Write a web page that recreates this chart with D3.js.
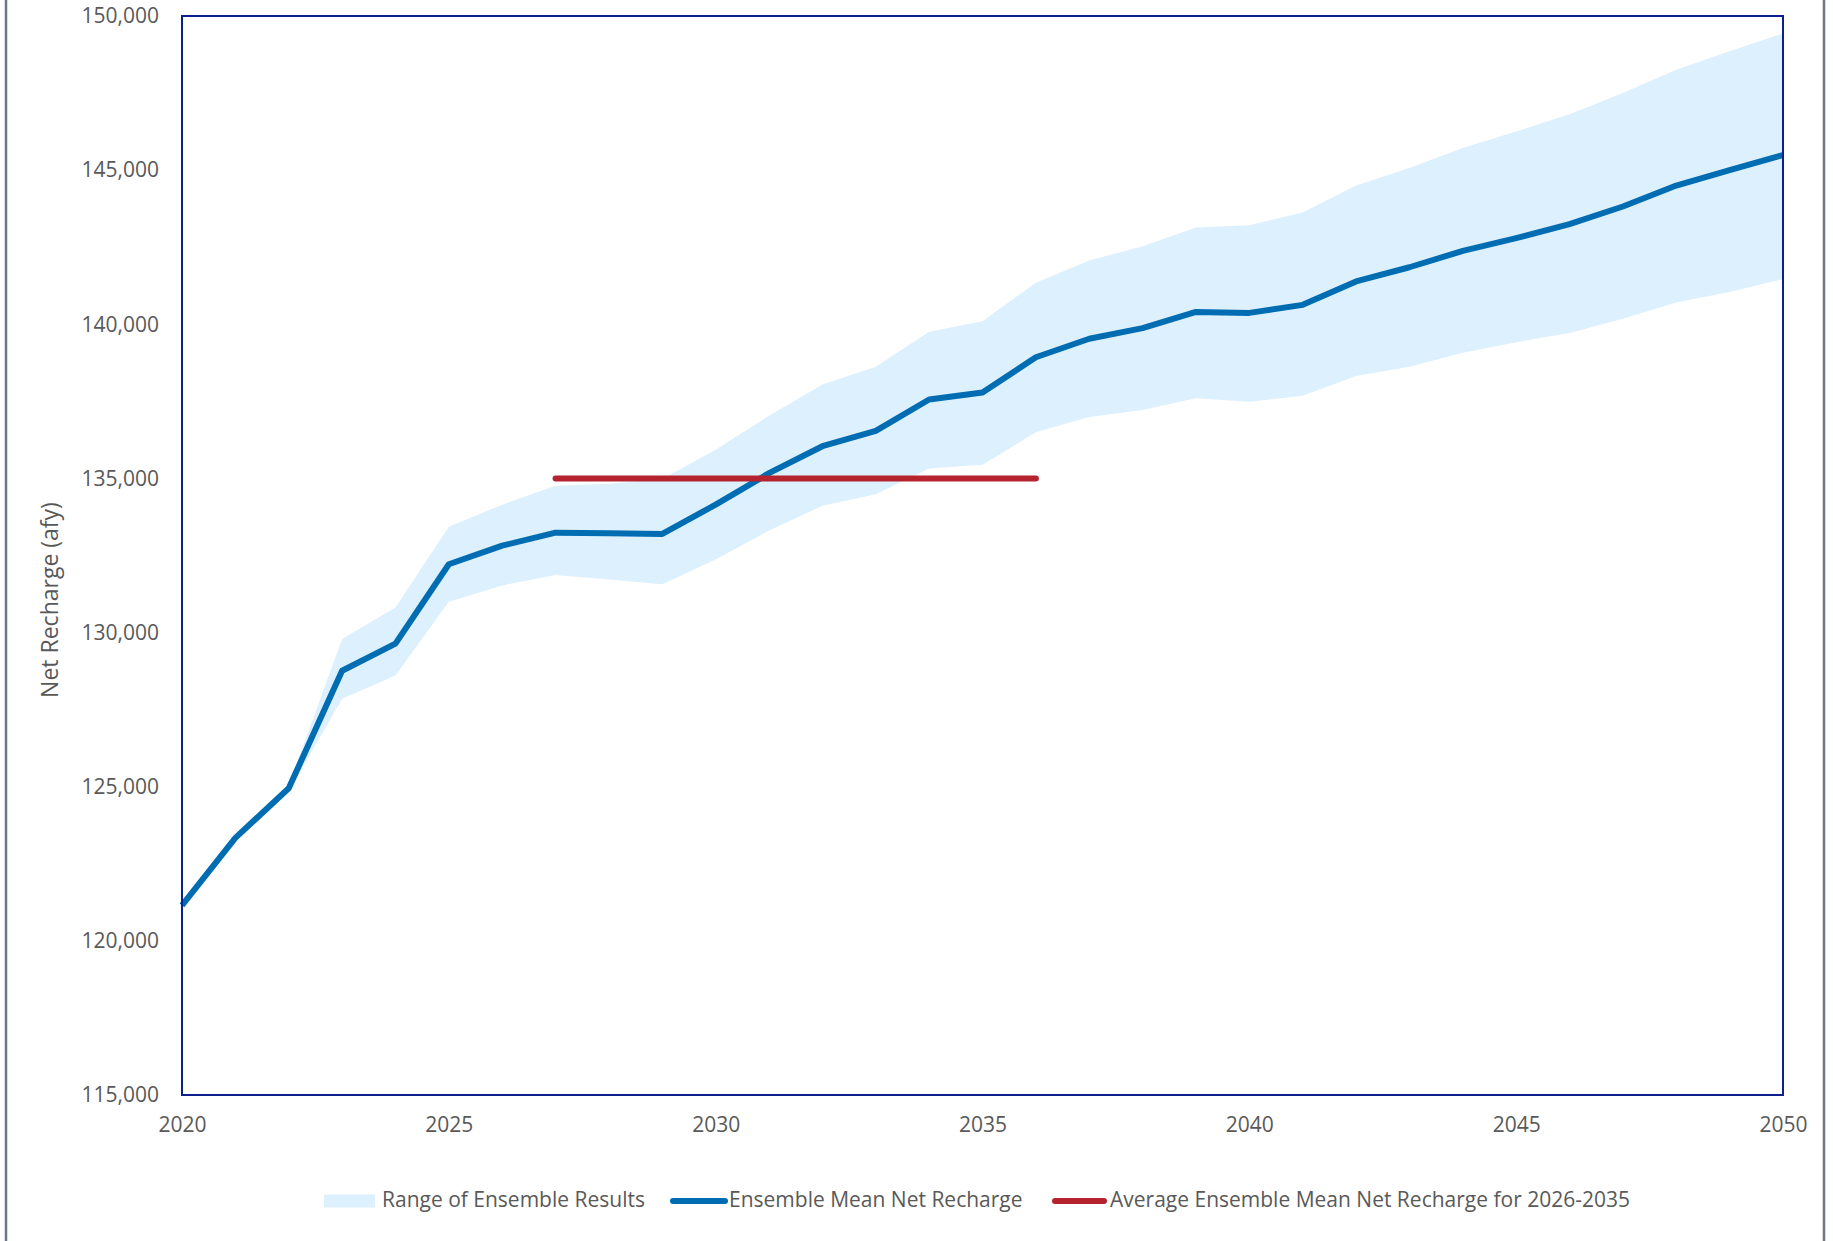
<!DOCTYPE html>
<html>
<head>
<meta charset="utf-8">
<script src="https://cdn.jsdelivr.net/npm/d3@7"></script>
<style>
  body { margin: 0; background: #fff; }
  text { font-family: "Open Sans", sans-serif; fill: #595959; }
</style>
</head>
<body>
<svg id="chart"></svg>
<script>
const years = d3.range(2020, 2051);
const meanValues = [121150, 123340, 124950, 128760, 129640, 132215, 132820, 133240, 133220, 133200,
    134150, 135170, 136045, 136540, 137560, 137790, 138930, 139530, 139875, 140400,
    140370, 140630, 141390, 141850, 142380, 142795, 143250, 143820, 144500, 145000, 145490];
const upperValues = [121200, 123400, 125050, 129790, 130810, 133430, 134150, 134760, 134830, 134980,
    135930, 137030, 138050, 138620, 139760, 140100, 141350, 142070, 142530, 143140,
    143210, 143630, 144500, 145070, 145720, 146250, 146810, 147500, 148260, 148860, 149430];
const lowerValues = [121100, 123280, 124850, 127850, 128610, 131000, 131530, 131870, 131720, 131570,
    132370, 133310, 134110, 134490, 135320, 135440, 136500, 136990, 137220, 137600,
    137490, 137680, 138320, 138620, 139080, 139420, 139720, 140180, 140710, 141050, 141470];
const averageYears = [2027, 2036];
const averageValue = 135000;
const yTicks = [115000, 120000, 125000, 130000, 135000, 140000, 145000, 150000];
const xTicks = [2020, 2025, 2030, 2035, 2040, 2045, 2050];
const legendLabels = ['Range of Ensemble Results', 'Ensemble Mean Net Recharge', 'Average Ensemble Mean Net Recharge for 2026-2035'];

const w = 1833;
const h = 1241;
const margin = { top: 16, right: 50, bottom: 146, left: 182 };

const svg = d3.select('#chart')
    .attr('width', w)
    .attr('height', h);

const x = d3.scaleLinear()
    .domain([2020, 2050])
    .range([margin.left, w - margin.right]);

const y = d3.scaleLinear()
    .domain([115000, 150000])
    .range([h - margin.bottom, margin.top]);

// outer frame edges
svg.append('line').attr('x1', 6).attr('x2', 6).attr('y1', 0).attr('y2', h)
    .attr('stroke', '#6b7785').attr('stroke-width', 2.5);
svg.append('line').attr('x1', 1824).attr('x2', 1824).attr('y1', 0).attr('y2', h)
    .attr('stroke', '#6b7785').attr('stroke-width', 2.5);

const band = years.map((yr, i) => ({ yr, lo: lowerValues[i], hi: upperValues[i] }));

svg.append('path')
    .datum(band)
    .attr('fill', '#ddf0fd')
    .attr('d', d3.area().x(d => x(d.yr)).y0(d => y(d.lo)).y1(d => y(d.hi)));

svg.append('path')
    .datum(years.map((yr, i) => [yr, meanValues[i]]))
    .attr('fill', 'none')
    .attr('stroke', '#006db3')
    .attr('stroke-width', 6)
    .attr('stroke-linejoin', 'round')
    .attr('d', d3.line().x(d => x(d[0])).y(d => y(d[1])));

svg.append('line')
    .attr('x1', x(averageYears[0])).attr('x2', x(averageYears[1]))
    .attr('y1', y(averageValue)).attr('y2', y(averageValue))
    .attr('stroke', '#b5232f')
    .attr('stroke-width', 6)
    .attr('stroke-linecap', 'round');

// plot frame
svg.append('rect')
    .attr('x', x(2020)).attr('y', y(150000))
    .attr('width', x(2050) - x(2020))
    .attr('height', y(115000) - y(150000))
    .attr('fill', 'none')
    .attr('stroke', '#0d1f8c')
    .attr('stroke-width', 2);

const yAxis = svg.append('g')
    .attr('transform', `translate(${ x(2020) },0)`)
    .call(d3.axisLeft(y).tickValues(yTicks).tickSize(0).tickPadding(23).tickFormat(d3.format(',')));
yAxis.select('.domain').remove();
yAxis.selectAll('text').style('font-size', '21px').attr('fill', '#595959');

const xAxis = svg.append('g')
    .attr('transform', `translate(0,${ y(115000) })`)
    .call(d3.axisBottom(x).tickValues(xTicks).tickSize(0).tickPadding(22).tickFormat(d3.format('d')));
xAxis.select('.domain').remove();
xAxis.selectAll('text').style('font-size', '21px').attr('fill', '#595959');

svg.append('text')
    .attr('transform', 'translate(52,600) rotate(-90)')
    .attr('text-anchor', 'middle')
    .attr('dominant-baseline', 'middle')
    .style('font-size', '23px')
    .text('Net Recharge (afy)');

// legend
const ly = 1201;
const legend = svg.append('g');
legend.append('rect')
    .attr('x', 324).attr('y', ly - 6.5).attr('width', 51).attr('height', 13)
    .attr('fill', '#ddf0fd');
legend.append('text').attr('x', 382).attr('y', ly).attr('dominant-baseline', 'middle')
    .style('font-size', '21px').text(legendLabels[0]);
legend.append('line')
    .attr('x1', 673).attr('x2', 725).attr('y1', ly).attr('y2', ly)
    .attr('stroke', '#006db3').attr('stroke-width', 6).attr('stroke-linecap', 'round');
legend.append('text').attr('x', 729).attr('y', ly).attr('dominant-baseline', 'middle')
    .style('font-size', '21px').text(legendLabels[1]);
legend.append('line')
    .attr('x1', 1055).attr('x2', 1104).attr('y1', ly).attr('y2', ly)
    .attr('stroke', '#b5232f').attr('stroke-width', 6).attr('stroke-linecap', 'round');
legend.append('text').attr('x', 1110).attr('y', ly).attr('dominant-baseline', 'middle')
    .style('font-size', '21px').text(legendLabels[2]);
</script>
</body>
</html>
